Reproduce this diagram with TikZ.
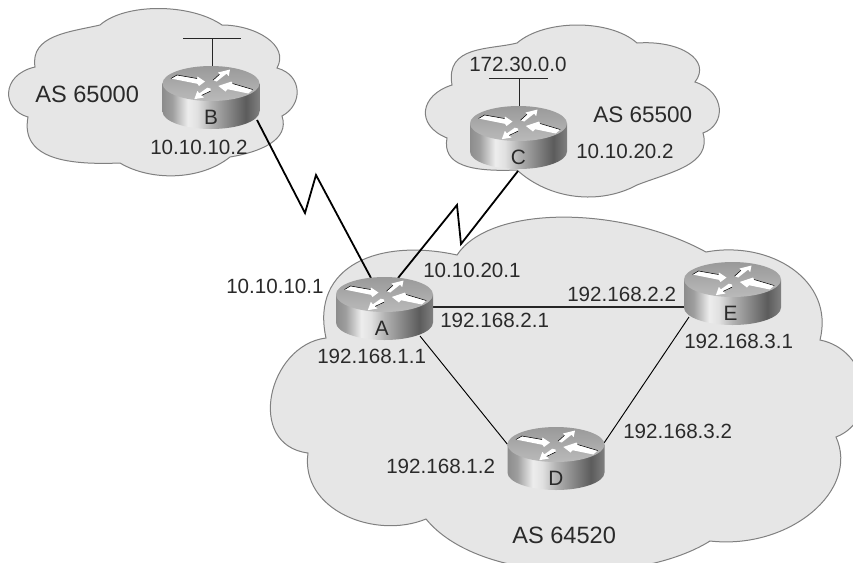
\documentclass[tikz,border=0pt]{standalone}
\usepackage{fontspec}
\setmainfont{Liberation Sans}
\usetikzlibrary{calc}
\pgfdeclarelayer{under}
\pgfsetlayers{under,main}
\definecolor{cloudfill}{HTML}{E6E6E6}
\definecolor{cloudline}{HTML}{808080}
\definecolor{inktext}{HTML}{2A2A2A}
\definecolor{sideA}{gray}{0.55}
\definecolor{sideB}{gray}{0.62}
\definecolor{sideC}{gray}{0.93}
\definecolor{sideD}{gray}{0.88}
\definecolor{sideE}{gray}{0.70}
\definecolor{sideF}{gray}{0.55}
\definecolor{sideG}{gray}{0.36}
\definecolor{sideH}{gray}{0.50}
\pgfdeclarehorizontalshading{routerside}{100bp}{
  color(0bp)=(sideA);
  color(25bp)=(sideA);
  color(30bp)=(sideB);
  color(38bp)=(sideC);
  color(43bp)=(sideD);
  color(50bp)=(sideE);
  color(58bp)=(sideF);
  color(68bp)=(sideG);
  color(75bp)=(sideH);
  color(100bp)=(sideH)}
\tikzset{
  cloudshape/.style={fill=cloudfill,draw=cloudline,line width=0.75pt},
  routerbox/.style={rectangle,minimum width=72.75pt,minimum height=47.25pt,inner sep=0pt,outer sep=0pt,font=\fontsize{15.6pt}{18pt}\selectfont,text=inktext},
  addr/.style={anchor=base west,inner sep=0pt,font=\fontsize{15.45pt}{18pt}\selectfont,text=inktext},
  asname/.style={anchor=base west,inner sep=0pt,font=\fontsize{17.7pt}{20pt}\selectfont,text=inktext},
  serial/.style={draw=black,line width=1.35pt,line join=miter,miter limit=10},
  lanlink/.style={draw=black!85,line width=0.85pt},
  thinlink/.style={draw=black,line width=0.7pt},
  stub/.style={draw=black!85,line width=0.75pt},
  arrowshape/.style={fill=white,draw=none},
  arrowedge/.style={draw=black,line width=0.4pt}
}
\newcommand{\routerart}[2]{%
  \begin{scope}[shift={(#1,#2)}]
    \shade[shading=routerside] (-48.5,0) -- (-48.5,28) arc[start angle=180,end angle=0,x radius=48.5,y radius=17.5] -- (48.5,0) -- cycle;
    \shade[top color=black!40,bottom color=black!27] (0,0) ellipse[x radius=48.5,y radius=17.5];
    \path[arrowshape] (-40,-5) -- (-34,-8.5) -- (-14,-5) -- (-13.5,-7) -- (-6,-2) -- (-12,2.5) -- (-13.5,.3) -- cycle;
    \path[arrowshape] (2,-3.3) -- (8.5,-9.2) -- (7,-11) -- (19,-14) -- (17.7,-7.5) -- (15.5,-9.8) -- (5.7,-2) -- cycle;
    \path[arrowshape] (41.7,6) -- (21.5,0) -- (20.5,-2) -- (7.3,2.4) -- (14.5,8) -- (16.5,5.7) -- (37.3,10) -- cycle;
    \path[arrowshape] (-.5,5) -- (-3.7,4.2) -- (-11.5,9.8) -- (-13.7,7.5) -- (-16.7,15.7) -- (-7,14) -- (-9.3,11.9) -- (-.5,7.6) -- cycle;
    \draw[arrowedge] (-40,-5) -- (-34,-8.5) -- (-14,-5);
    \draw[arrowedge] (41.7,6) -- (21.5,0);
    \draw[arrowedge] (-9.3,11.9) -- (-.5,7.6);
    \draw[arrowedge] (2,-3.3) -- (8.5,-9.2);
  \end{scope}}
\begin{document}
\begin{tikzpicture}[x=0.75pt,y=-0.75pt]
\useasboundingbox (0,0) rectangle (853,562);
\begin{pgfonlayer}{under}
\fill[white] (0,0) rectangle (853,562);
\begin{scope}
\clip (0,0) rectangle (853,562);
% AS 65000
\path[cloudshape] (35,67) .. controls (30,35) and (70,32) .. (100,25)
 .. controls (125,3) and (190,3) .. (222,25)
 .. controls (255,25) and (290,45) .. (277,68)
 .. controls (303,75) and (303,105) .. (282,116)
 .. controls (290,140) and (260,152) .. (230,157)
 .. controls (200,181) and (150,181) .. (120,163)
 .. controls (70,165) and (20,160) .. (28,117)
 .. controls (2,110) and (0,75) .. (35,67) -- cycle;
% AS 65500
\path[cloudshape] (452,85) .. controls (445,45) and (490,50) .. (517,43)
 .. controls (545,19) and (610,19) .. (637,43)
 .. controls (680,40) and (712,60) .. (695,82)
 .. controls (726,92) and (726,125) .. (703,133)
 .. controls (712,165) and (670,172) .. (637,185)
 .. controls (600,205) and (550,200) .. (517,170)
 .. controls (470,172) and (442,165) .. (447,138)
 .. controls (415,125) and (420,95) .. (452,85) -- cycle;
% AS 64520
\path[cloudshape] (457,255) .. controls (380,238) and (310,265) .. (326,338)
 .. controls (268,345) and (245,445) .. (308,453)
 .. controls (300,510) and (375,540) .. (426,519)
 .. controls (480,585) and (640,585) .. (710,541)
 .. controls (790,550) and (860,490) .. (836,437)
 .. controls (880,420) and (870,350) .. (820,340)
 .. controls (835,280) and (770,240) .. (706,252)
 .. controls (620,205) and (490,205) .. (457,255) -- cycle;
\end{scope}
\end{pgfonlayer}
% routers
\routerart{384.5}{294.5}
\routerart{211}{83.5}
\routerart{518.5}{123.5}
\routerart{556}{444.5}
\routerart{732.5}{279.5}
\node[routerbox] (A) at (384.5,308.5) {\smash{\raisebox{-19.9pt}{\kern-4pt A}}};
\node[routerbox] (B) at (211,97.5) {\smash{\raisebox{-19.9pt}{B}}};
\node[routerbox] (C) at (518.5,137.5) {\smash{\raisebox{-19.9pt}{C}}};
\node[routerbox] (D) at (556,458.5) {\smash{\raisebox{-19.9pt}{D}}};
\node[routerbox] (E) at (732.5,293.5) {\smash{\raisebox{-19.9pt}{\kern-3pt E}}};
% free ends of the LAN stubs
\coordinate (lanBl) at (183,38);
\coordinate (lanBr) at (241,38);
\coordinate (lanBm) at (212,38);
\coordinate (lanCl) at (489,78);
\coordinate (lanCr) at (548,78);
\coordinate (lanCm) at (519,78);
% connectors
\begin{pgfonlayer}{under}
\draw[serial] ($(B)+(46,22.5)$) -- (305,213) -- (316,175) -- ($(A)+(-13.5,-30.5)$);
\draw[serial] ($(C)+(-.5,33.5)$) -- (461,244) -- (457,205) -- ($(A)+(13.5,-30.5)$);
\draw[lanlink] ($(A)+(48,-1.5)$) -- ($(E)+(-49,13.5)$);
\draw[thinlink] ($(A)+(35.5,27.5)$) -- ($(D)+(-48,-13.5)$);
\draw[thinlink] ($(E)+(-43.5,23.5)$) -- ($(D)+(48,-15.5)$);
\draw[stub] (lanBl) -- (lanBr);
\draw[stub] (lanBm) -- (B.north -| lanBm);
\draw[stub] (lanCl) -- (lanCr);
\draw[stub] (lanCm) -- (C.north -| lanCm);
\end{pgfonlayer}
% labels
\node[asname] (tB) at (35,102) {AS 65000};
\node[asname,font=\fontsize{16.9pt}{20pt}\selectfont] (tC) at (593,122) {AS 65500};
\node[asname] (tD) at (512,543) {AS 64520};
\node[addr] (a1) at (150,154) {10.10.10.2};
\node[addr] (a2) at (469,71) {172.30.0.0};
\node[addr] (a3) at (576,158) {10.10.20.2};
\node[addr] (a4) at (423,277) {10.10.20.1};
\node[addr] (a5) at (226,293) {10.10.10.1};
\node[addr] (a6) at (440,327) {192.168.2.1};
\node[addr] (a7) at (567,301) {192.168.2.2};
\node[addr] (a8) at (684,348) {192.168.3.1};
\node[addr] (a9) at (317,363) {192.168.1.1};
\node[addr] (a10) at (386,473) {192.168.1.2};
\node[addr] (a11) at (623,438) {192.168.3.2};
\end{tikzpicture}
\end{document}
